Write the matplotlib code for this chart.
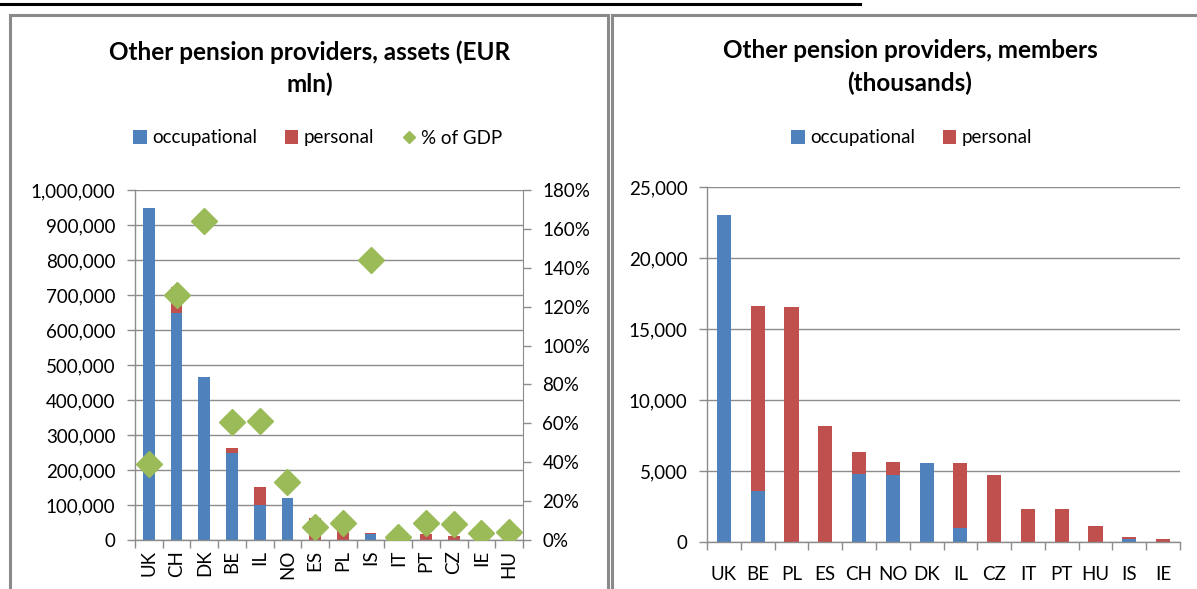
import matplotlib.pyplot as plt
from matplotlib.patches import Rectangle
from matplotlib.lines import Line2D
from matplotlib.ticker import FuncFormatter, MultipleLocator, FixedLocator
import numpy as np

plt.rcParams['font.family'] = ['Lato', 'DejaVu Sans']

# assets chart (EUR mln)
assets_countries = ['UK', 'CH', 'DK', 'BE', 'IL', 'NO', 'ES', 'PL', 'IS', 'IT', 'PT', 'CZ', 'IE', 'HU']
assets_occ = [950000, 648000, 467000, 248000, 100000, 121000, 0, 0, 16000, 0, 0, 0, 0, 0]
assets_pers = [0, 76000, 0, 14000, 51000, 0, 64000, 33000, 3000, 1000, 16000, 12000, 1000, 1000]
assets_gdp = [39, 126, 164, 60.5, 61, 30, 6.5, 8.6, 144, 1.7, 8.6, 8, 3.4, 4]

# members chart (thousands)
members_countries = ['UK', 'BE', 'PL', 'ES', 'CH', 'NO', 'DK', 'IL', 'CZ', 'IT', 'PT', 'HU', 'IS', 'IE']
members_occ = [23000, 3575, 0, 0, 4820, 4750, 5575, 990, 0, 0, 0, 0, 190, 0]
members_pers = [0, 13075, 16580, 8160, 1530, 895, 0, 4585, 4750, 2330, 2330, 1150, 165, 190]

blue = '#4F81BD'
red = '#C0504D'
green = '#9BBB59'
grid_c = '#8C8C8C'
fs = 13.5

W, H = 1197, 589
fig = plt.figure(figsize=(W / 100, H / 100), dpi=100)


def box(x0, y0, x1, y1):
    # pixel coords (top-left origin) -> figure fraction
    return [x0 / W, 1 - y1 / H, (x1 - x0) / W, (y1 - y0) / H]


# panel borders and cropped caption underline
fig.add_artist(Rectangle((10 / W, -0.05), 598 / W, 1 - 15 / H + 0.05, transform=fig.transFigure,
                         fill=False, edgecolor='#8A8A8A', lw=2.2))
fig.add_artist(Rectangle((612 / W, -0.05), 600 / W, 1 - 15 / H + 0.05, transform=fig.transFigure,
                         fill=False, edgecolor='#8A8A8A', lw=2.2))
fig.add_artist(Line2D([0, 860 / W], [1 - 4 / H, 1 - 4 / H], transform=fig.transFigure,
                      color='black', lw=2.2))


def style_axes(ax, n, xpad):
    ax.set_xlim(-0.5, n - 0.5)
    ax.xaxis.set_major_locator(FixedLocator(np.arange(-0.5, n, 1.0)))
    ax.xaxis.set_major_formatter(plt.NullFormatter())
    ax.xaxis.set_minor_locator(FixedLocator(np.arange(n)))
    ax.tick_params(axis='x', which='major', length=6, color=grid_c, width=1)
    ax.tick_params(axis='x', which='minor', length=0, labelsize=fs, pad=xpad)
    ax.tick_params(axis='y', length=6, color=grid_c, width=1, labelsize=fs, pad=8)
    ax.grid(axis='y', color=grid_c, lw=1)
    ax.set_axisbelow(True)
    for s in ['top', 'right']:
        ax.spines[s].set_visible(False)
    for s in ['left', 'bottom']:
        ax.spines[s].set_color(grid_c)
        ax.spines[s].set_linewidth(1)


# left chart
ax1 = fig.add_axes(box(135, 190, 523, 540))
x = np.arange(len(assets_countries))
ax1.bar(x, assets_occ, width=0.42, color=blue, label='occupational')
ax1.bar(x, assets_pers, width=0.42, bottom=assets_occ, color=red, label='personal')
ax1.set_ylim(0, 1000000)
ax1.yaxis.set_major_locator(MultipleLocator(100000))
ax1.yaxis.set_major_formatter(FuncFormatter(lambda v, p: f'{v:,.0f}'))
style_axes(ax1, len(assets_countries), 7)
ax1.set_xticks(x, assets_countries, minor=True, rotation=90)

ax1b = ax1.twinx()
ax1b.plot(x, assets_gdp, linestyle='none', marker='D', markersize=13, color=green,
          markeredgecolor=green, label='% of GDP')
ax1b.set_ylim(0, 180)
ax1b.yaxis.set_major_locator(MultipleLocator(20))
ax1b.yaxis.set_major_formatter(FuncFormatter(lambda v, p: f'{v:.0f}%'))
ax1b.tick_params(axis='y', length=6, color=grid_c, width=1, labelsize=fs, pad=8)
for s in ['top', 'left', 'bottom']:
    ax1b.spines[s].set_visible(False)
ax1b.spines['right'].set_color(grid_c)

fig.text(310 / W, 1 - 68 / H, 'Other pension providers, assets (EUR\nmln)', ha='center',
         va='center', fontsize=17.5, fontweight='bold', linespacing=1.45)
h1, l1 = ax1.get_legend_handles_labels()
h2 = [Line2D([], [], linestyle='none', marker='D', markersize=6, color=green)]
fig.legend(h1 + h2, l1 + ['% of GDP'], loc='center', bbox_to_anchor=(318 / W, 1 - 138 / H),
           ncol=3, frameon=False, fontsize=fs, handlelength=0.7, handleheight=0.7,
           handletextpad=0.3, columnspacing=1.5)

# right chart
ax2 = fig.add_axes(box(707, 187, 1180, 542))
x2 = np.arange(len(members_countries))
ax2.bar(x2, members_occ, width=0.42, color=blue, label='occupational')
ax2.bar(x2, members_pers, width=0.42, bottom=members_occ, color=red, label='personal')
ax2.set_ylim(0, 25000)
ax2.yaxis.set_major_locator(MultipleLocator(5000))
ax2.yaxis.set_major_formatter(FuncFormatter(lambda v, p: f'{v:,.0f}'))
style_axes(ax2, len(members_countries), 17)
ax2.set_xticks(x2, members_countries, minor=True)

fig.text(910 / W, 1 - 67 / H, 'Other pension providers, members\n(thousands)', ha='center',
         va='center', fontsize=17.5, fontweight='bold', linespacing=1.45)
h3, l3 = ax2.get_legend_handles_labels()
fig.legend(h3, l3, loc='center', bbox_to_anchor=(912 / W, 1 - 138 / H), ncol=2,
           frameon=False, fontsize=fs, handlelength=0.7, handleheight=0.7, handletextpad=0.3,
           columnspacing=1.5)

fig.savefig('out.png', dpi=100)
